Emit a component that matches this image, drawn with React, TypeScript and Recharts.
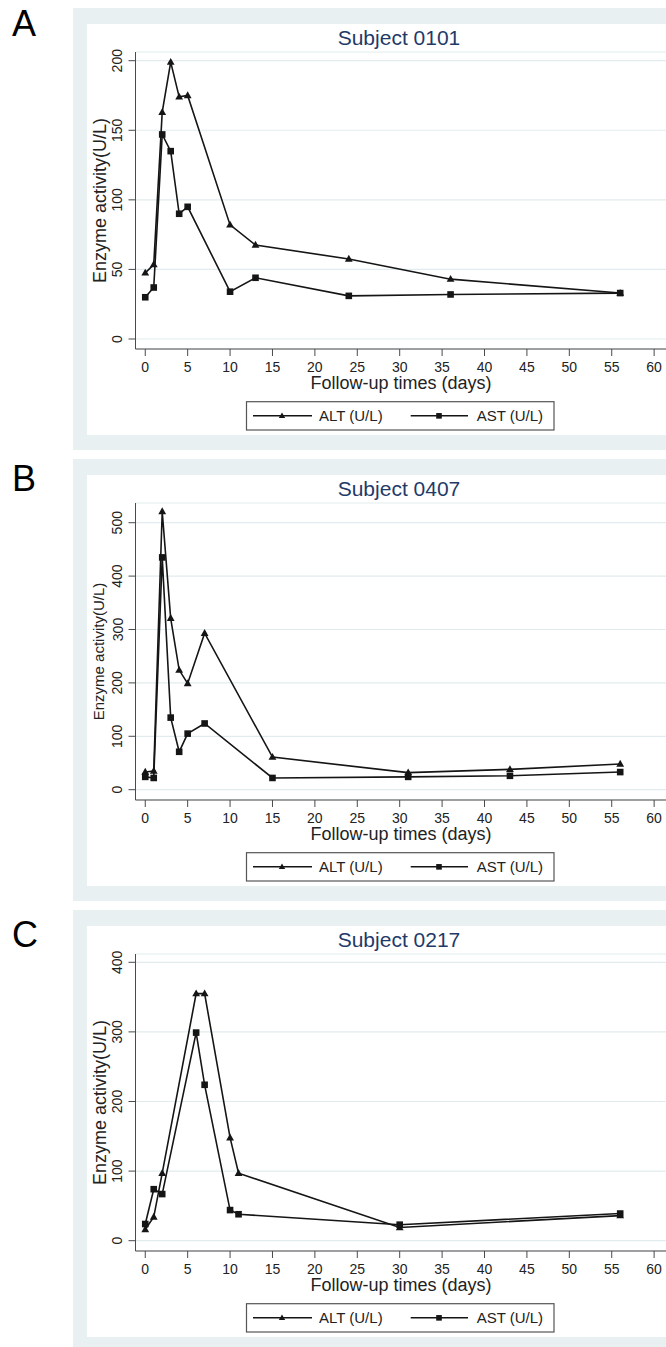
import React from 'react';
import { LineChart, Line, XAxis, YAxis, CartesianGrid } from 'recharts';

// ---------- data ----------
const A_DAYS = [0, 1, 2, 3, 4, 5, 10, 13, 24, 36, 56];
const A_ALT = [47.5, 53.5, 163, 199, 174, 175, 82, 67.5, 57.5, 43, 33];
const A_AST = [30, 37, 147, 135, 90, 95, 34, 44, 31, 32, 33];

const B_DAYS = [0, 1, 2, 3, 4, 5, 7, 15, 31, 43, 56];
const B_ALT = [33, 35, 521, 321, 224, 199, 293, 61, 32, 38, 48];
const B_AST = [24, 22, 435, 135, 71, 105, 124, 22, 24, 26, 33];

const C_DAYS = [0, 1, 2, 6, 7, 10, 11, 30, 56];
const C_ALT = [16, 34, 97, 355, 355, 148, 97, 19, 36];
const C_AST = [24, 74, 67, 299, 224, 44, 38, 23, 39];

const X_TICKS = [0, 5, 10, 15, 20, 25, 30, 35, 40, 45, 50, 55, 60];
const A_Y_TICKS = [0, 50, 100, 150, 200];
const B_Y_TICKS = [0, 100, 200, 300, 400, 500];
const C_Y_TICKS = [0, 100, 200, 300, 400];

const SERIES_NAMES = ['ALT (U/L)', 'AST (U/L)'];
const TITLES = ['Subject 0101', 'Subject 0407', 'Subject 0217'];
const LETTERS = ['A', 'B', 'C'];
const X_TITLE = 'Follow-up times (days)';
const Y_TITLE = 'Enzyme activity(U/L)';

const toPoints = (days: number[], vals: number[]) => days.map((d, i) => ({ day: d, value: vals[i] }));

// ---------- style ----------
const FONT = '"Liberation Sans", Arial, Helvetica, sans-serif';
const OUTER = '#e9f0f2';
const GRID = '#e2ebee';
const INK = '#151515';
const AXIS = '#4a4a4a';
const TITLE_COLOR = '#1f3a68';
const H = 442;
const PLOT_TOP = 44;
const PLOT_BOTTOM = 341;
const PLOT_LEFT = 135.5;
const Y_AXIS_W = 50;
const X_AXIS_H = 30;
const X_DOMAIN: [number, number] = [-1.15, 61.4];

const TriDot = (p: any) => {
  const { cx, cy, index } = p;
  if (cx == null || cy == null) return <g key={index} />;
  return (
    <path key={index} d={`M${cx},${cy - 4.2} L${cx + 3.9},${cy + 2.7} L${cx - 3.9},${cy + 2.7} Z`} fill={INK} />
  );
};

const SqDot = (p: any) => {
  const { cx, cy, index } = p;
  if (cx == null || cy == null) return <g key={index} />;
  return <rect key={index} x={cx - 3.3} y={cy - 3.3} width={6.6} height={6.6} fill={INK} />;
};

const YTick = (p: any) => {
  const { x, y, payload } = p;
  return (
    <text
      x={x}
      y={y}
      transform={`rotate(-90, ${x}, ${y})`}
      textAnchor="middle"
      fontSize={14}
      fontFamily={FONT}
      fill="#222"
    >
      {payload.value}
    </text>
  );
};

type PanelProps = {
  top: number;
  idx: number;
  letterBaseline: number;
  days: number[];
  alt: number[];
  ast: number[];
  yDomain: [number, number];
  yTicks: number[];
  yTitleSize: number;
  yTitleX: number;
};

function Panel({ top, idx, letterBaseline, days, alt, ast, yDomain, yTicks, yTitleSize, yTitleX }: PanelProps) {
  const altPts = toPoints(days, alt);
  const astPts = toPoints(days, ast);
  const legTop = 393.7;
  const legH = 28.3;
  const legMid = legTop + legH / 2;
  return (
    <div style={{ position: 'absolute', left: 0, top, width: 666, height: H }}>
      <div style={{ position: 'absolute', left: 73, top: 0, width: 593, height: H, background: OUTER }} />
      <div style={{ position: 'absolute', left: 87, top: 16, width: 579, height: 411, background: '#fff' }} />
      <div style={{ position: 'absolute', left: 0, top: 0 }}>
        <LineChart
          width={666}
          height={H}
          margin={{ top: PLOT_TOP, right: 0, bottom: H - PLOT_BOTTOM - X_AXIS_H, left: PLOT_LEFT - Y_AXIS_W }}
        >
          <CartesianGrid horizontal vertical={false} stroke={GRID} strokeWidth={1.2} />
          <XAxis
            type="number"
            dataKey="day"
            domain={X_DOMAIN}
            ticks={X_TICKS}
            allowDataOverflow
            interval={0}
            height={X_AXIS_H}
            tickSize={7}
            tickMargin={6}
            stroke={AXIS}
            tick={{ fontSize: 14, fontFamily: FONT, fill: '#222' }}
          />
          <YAxis
            type="number"
            dataKey="value"
            domain={yDomain}
            ticks={yTicks}
            allowDataOverflow
            interval={0}
            width={Y_AXIS_W}
            tickSize={7}
            tickMargin={6}
            stroke={AXIS}
            tick={<YTick />}
          />
          <Line
            data={altPts}
            dataKey="value"
            type="linear"
            stroke={INK}
            strokeWidth={1.6}
            dot={TriDot}
            activeDot={false}
            isAnimationActive={false}
          />
          <Line
            data={astPts}
            dataKey="value"
            type="linear"
            stroke={INK}
            strokeWidth={1.6}
            dot={SqDot}
            activeDot={false}
            isAnimationActive={false}
          />
        </LineChart>
      </div>
      <svg
        width={666}
        height={H}
        style={{ position: 'absolute', left: 0, top: 0, pointerEvents: 'none', overflow: 'visible' }}
        fontFamily={FONT}
      >
        <text x={12} y={letterBaseline} fontSize={36} fill="#000">
          {LETTERS[idx]}
        </text>
        <text x={399} y={37} fontSize={21} fill={TITLE_COLOR} textAnchor="middle">
          {TITLES[idx]}
        </text>
        <text
          x={yTitleX}
          y={(PLOT_TOP + PLOT_BOTTOM) / 2}
          fontSize={yTitleSize}
          fill="#222"
          textAnchor="middle"
          transform={`rotate(-90, ${yTitleX}, ${(PLOT_TOP + PLOT_BOTTOM) / 2})`}
        >
          {Y_TITLE}
        </text>
        <text x={401} y={381} fontSize={18} fill="#222" textAnchor="middle">
          {X_TITLE}
        </text>
        <rect x={246.5} y={legTop} width={307.5} height={legH} fill="#fff" stroke="#555" strokeWidth={1.2} />
        <line x1={253} x2={312} y1={legMid} y2={legMid} stroke={INK} strokeWidth={1.5} />
        <path d={`M282,${legMid - 3.4} L285.2,${legMid + 2.2} L278.8,${legMid + 2.2} Z`} fill={INK} />
        <text x={319} y={legMid + 5.5} fontSize={15} fill="#222">
          {SERIES_NAMES[0]}
        </text>
        <line x1={410.7} x2={468} y1={legMid} y2={legMid} stroke={INK} strokeWidth={1.5} />
        <rect x={436.2} y={legMid - 2.8} width={5.6} height={5.6} fill={INK} />
        <text x={476.7} y={legMid + 5.5} fontSize={15} fill="#222">
          {SERIES_NAMES[1]}
        </text>
      </svg>
    </div>
  );
}

export default function App() {
  return (
    <div
      style={{
        position: 'absolute',
        left: 0,
        top: 0,
        width: 666,
        height: 1347,
        background: '#fff',
        overflow: 'hidden',
        fontFamily: FONT,
      }}
    >
      <Panel
        top={8}
        idx={0}
        letterBaseline={28}
        days={A_DAYS}
        alt={A_ALT}
        ast={A_AST}
        yDomain={[-7.19, 206.25]}
        yTicks={A_Y_TICKS}
        yTitleSize={18}
        yTitleX={106}
      />
      <Panel
        top={459}
        idx={1}
        letterBaseline={32}
        days={B_DAYS}
        alt={B_ALT}
        ast={B_AST}
        yDomain={[-19.3, 536.9]}
        yTicks={B_Y_TICKS}
        yTitleSize={15}
        yTitleX={104}
      />
      <Panel
        top={910}
        idx={2}
        letterBaseline={37}
        days={C_DAYS}
        alt={C_ALT}
        ast={C_AST}
        yDomain={[-14.8, 411.9]}
        yTicks={C_Y_TICKS}
        yTitleSize={18}
        yTitleX={106}
      />
    </div>
  );
}
